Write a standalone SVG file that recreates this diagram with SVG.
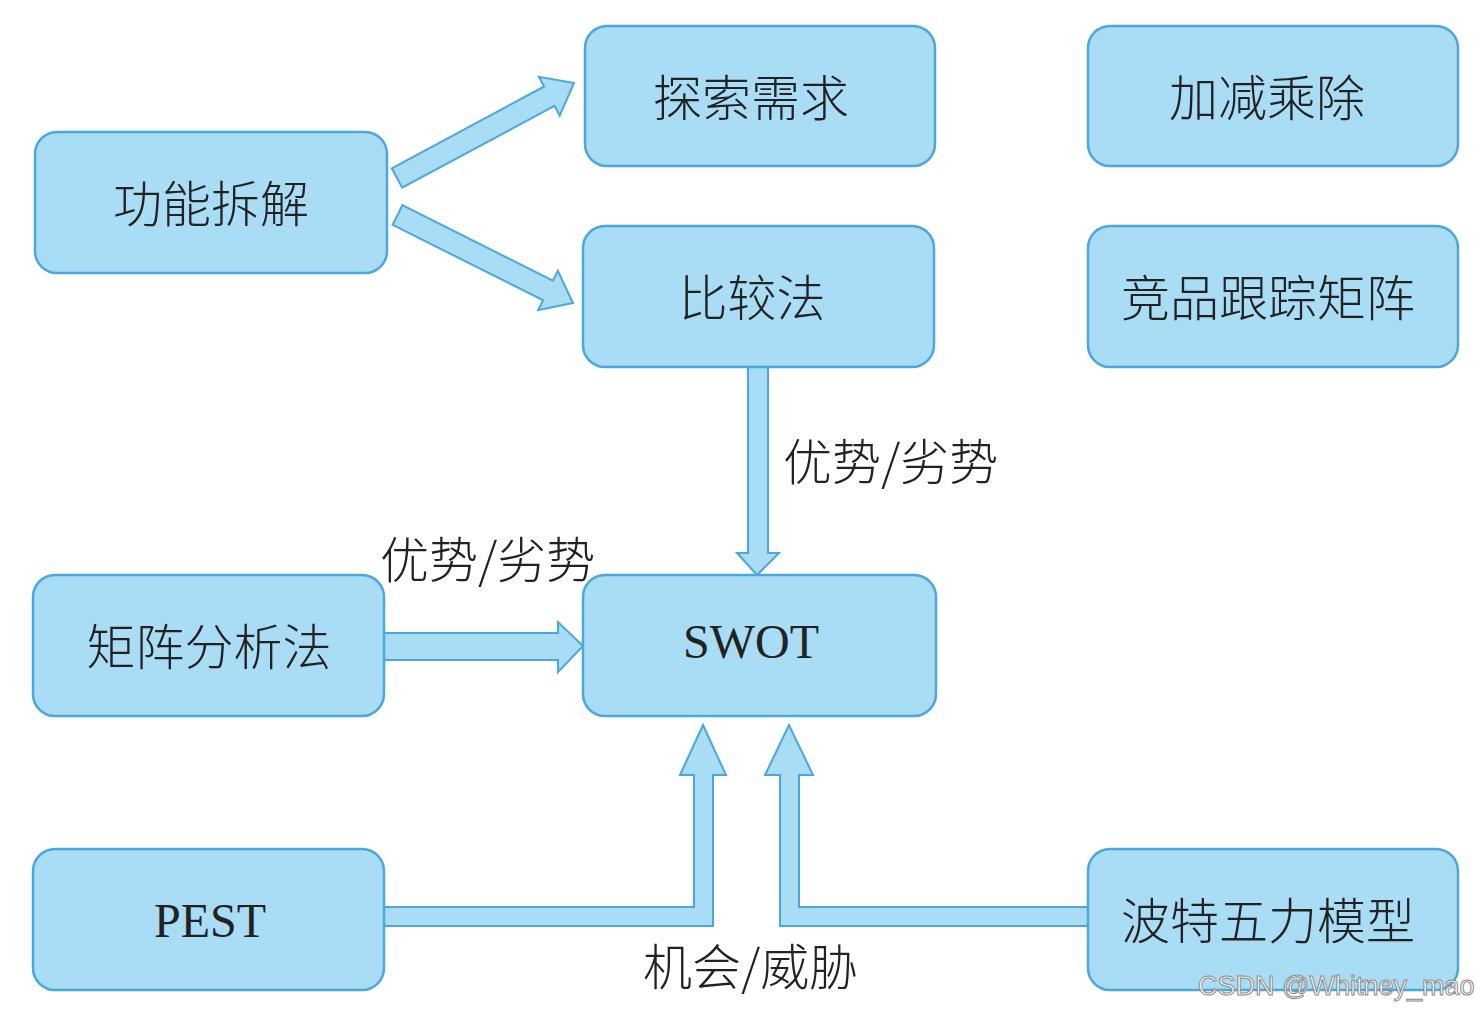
<svg xmlns="http://www.w3.org/2000/svg" width="1477" height="1011" viewBox="0 0 1477 1011">
<style>
.box{fill:#a9dcf5;stroke:#4ba7dc;stroke-width:2.5}
.t{font-family:"Noto Sans CJK SC","Noto Sans CJK JP",sans-serif;font-size:49px;font-weight:300;fill:#222;text-anchor:middle;dominant-baseline:central}
.lt{font-family:"Liberation Serif",serif;font-size:48px;fill:#222;text-anchor:middle;dominant-baseline:central}
.lab{font-family:"Noto Sans CJK SC","Noto Sans CJK JP",sans-serif;font-size:49px;font-weight:300;fill:#222}
.arr{fill:#a9dcf5;stroke:#4ba7dc;stroke-width:2;stroke-linejoin:miter}
.wm{font-family:"Liberation Sans",Arial,sans-serif;font-size:27px;fill:#ffffff;stroke:#8a8a8a;stroke-width:1}
</style>
<rect width="1477" height="1011" fill="#ffffff"/>
<g id="connectors">
<polygon class="arr" points="391.8,168.3 544.1,86.5 538.9,76.8 574,83 559.7,115.6 554.5,105.9 402.2,187.7"/>
<polygon class="arr" points="402.4,205.2 552.9,280.7 557.9,270.8 573,303 538.1,310.2 543.1,300.3 392.6,224.8"/>
<polygon class="arr" points="748,367 768,367 768,553 779,553 757,575 737,553 748,553"/>
<polygon class="arr" points="384,633 558,633 558,622 583,646 558,672 558,660 384,660"/>
<polygon class="arr" points="384,907 694,907 694,775 680,775 703,725 726,775 713,775 713,926 384,926"/>
<polygon class="arr" points="1088,907 799,907 799,775 813,775 789,725 765,775 780,775 780,926 1088,926"/>
<text class="lab" x="783" y="480">优势/劣势</text>
<text class="lab" x="380" y="578">优势/劣势</text>
<text class="lab" x="643" y="985">机会/威胁</text>
</g>
<g id="n-gongneng"><rect class="box" x="35" y="132" width="352" height="141" rx="22"/><text class="t" x="211" y="200">功能拆解</text></g>
<g id="n-tansuo"><rect class="box" x="585" y="26" width="350" height="140" rx="22"/><text class="t" x="751" y="94">探索需求</text></g>
<g id="n-bijiao"><rect class="box" x="583" y="226" width="351" height="141" rx="22"/><text class="t" x="752" y="294">比较法</text></g>
<g id="n-jiajian"><rect class="box" x="1088" y="26" width="370" height="140" rx="22"/><text class="t" x="1267" y="94">加减乘除</text></g>
<g id="n-jingpin"><rect class="box" x="1088" y="226" width="370" height="141" rx="22"/><text class="t" x="1268" y="294">竞品跟踪矩阵</text></g>
<g id="n-juzhen"><rect class="box" x="33" y="575" width="351" height="141" rx="22"/><text class="t" x="209" y="643">矩阵分析法</text></g>
<g id="n-swot"><rect class="box" x="583" y="575" width="353" height="141" rx="22"/><text class="lt" x="751" y="641">SWOT</text></g>
<g id="n-pest"><rect class="box" x="33" y="849" width="351" height="141" rx="22"/><text class="lt" x="210" y="920">PEST</text></g>
<g id="n-bote"><rect class="box" x="1088" y="849" width="370" height="141" rx="22"/><text class="t" x="1268" y="917">波特五力模型</text></g>
<text class="wm" x="1198" y="995">CSDN @Whitney_mao</text>
</svg>
